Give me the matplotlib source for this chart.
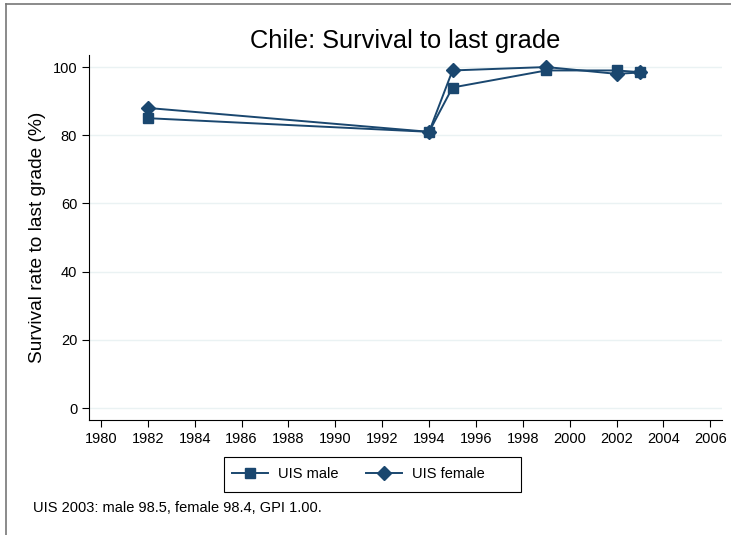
import matplotlib
matplotlib.use("Agg")
import matplotlib.pyplot as plt
from matplotlib.lines import Line2D
from matplotlib.patches import Rectangle

plt.rcParams['font.family'] = ['Liberation Sans', 'DejaVu Sans']

years_male = [1982, 1994, 1995, 1999, 2002, 2003]
male = [85, 81, 94, 99, 99, 98.5]
years_female = [1982, 1994, 1995, 1999, 2002, 2003]
female = [88, 81, 99, 100, 98, 98.4]

x_ticks = list(range(1980, 2007, 2))
y_ticks = [0, 20, 40, 60, 80, 100]

navy = '#1a476f'
W, H = 731, 535

fig = plt.figure(figsize=(7.31, 5.35), dpi=100)
ax = fig.add_axes([0.1218, 0.215, 0.8659, 0.682])

ax.plot(years_male, male, color=navy, lw=1.4, marker='s', ms=7,
        label='UIS male', zorder=3)
ax.plot(years_female, female, color=navy, lw=1.4, marker='D', ms=7.5,
        label='UIS female', zorder=3)

ax.set_xlim(1979.49, 2006.5)
ax.set_ylim(-3.5, 103.5)
ax.set_xticks(x_ticks)
ax.set_yticks(y_ticks)
ax.tick_params(labelsize=10.5, length=5, width=0.8, color='black')
ax.grid(axis='y', color='#eaf2f3', lw=1)
ax.set_axisbelow(True)
for s in ['top', 'right']:
    ax.spines[s].set_visible(False)
ax.spines['left'].set_color('black')
ax.spines['bottom'].set_color('black')

ax.set_ylabel('Survival rate to last grade (%)', fontsize=13.8, labelpad=5)
ax.set_title('Chile: Survival to last grade', fontsize=18.3, pad=5)

# legend without its own frame, box drawn separately (Stata-like padding)
leg = fig.legend(loc='center left', bbox_to_anchor=(232 / W, 1 - 474.5 / H),
                 ncol=2, fontsize=10.5, frameon=False, handlelength=2.45,
                 columnspacing=1.9, borderpad=0, borderaxespad=0,
                 handletextpad=0.7)
fig.add_artist(Rectangle((224 / W, 1 - 492 / H), 297 / W, 35 / H,
                         transform=fig.transFigure, fill=False,
                         edgecolor='black', lw=0.8))

fig.text(33 / W, 1 - 508 / H, 'UIS 2003: male 98.5, female 98.4, GPI 1.00.',
         fontsize=10.5, va='center', ha='left')

# outer frame (top and left visible)
fig.add_artist(Line2D([6 / W, 1], [1 - 4 / H, 1 - 4 / H],
                      transform=fig.transFigure, color='#777777', lw=1.2))
fig.add_artist(Line2D([6 / W, 6 / W], [0, 1 - 4 / H],
                      transform=fig.transFigure, color='#777777', lw=1.2))

fig.savefig('out.png', dpi=100)
